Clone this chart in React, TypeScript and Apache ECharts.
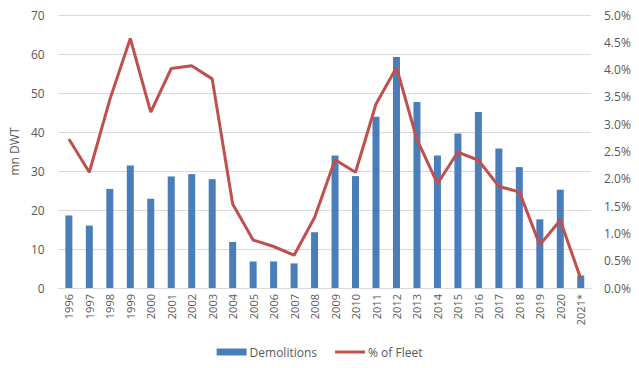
import React, { useEffect, useRef } from "react";
import * as echarts from "echarts";

const categories = ["1996","1997","1998","1999","2000","2001","2002","2003","2004","2005","2006","2007","2008","2009","2010","2011","2012","2013","2014","2015","2016","2017","2018","2019","2020","2021*"];
const demolitions = [18.6,16.0,25.4,31.4,22.9,28.6,29.2,27.9,11.8,6.8,6.8,6.3,14.3,34.0,28.7,43.9,59.2,47.7,34.0,39.6,45.1,35.8,31.0,17.6,25.2,3.2];
const pctFleet = [2.73,2.12,3.45,4.57,3.22,4.02,4.07,3.83,1.54,0.88,0.76,0.6,1.29,2.35,2.12,3.37,4.04,2.72,1.91,2.49,2.34,1.86,1.76,0.79,1.24,0.17];

export default function App() {
  const ref = useRef<HTMLDivElement>(null);
  useEffect(() => {
    const chart = echarts.init(ref.current!, null, { renderer: "svg" });
    const font = "'Open Sans', 'Liberation Sans', sans-serif";
    chart.setOption({
      animation: false,
      textStyle: { fontFamily: font },
      grid: { left: 57, right: 48, top: 15, bottom: 80, containLabel: false },
      legend: {
        bottom: 5,
        left: "center",
        itemGap: 18,
        itemWidth: 30,
        itemHeight: 7,
        symbolKeepAspect: true,
        textStyle: { color: "#595959", fontSize: 12, padding: [0, 0, 0, -2], fontFamily: "'Liberation Sans Narrow', 'Open Sans', sans-serif" },
        data: [
          { name: "Demolitions", icon: "rect" },
          { name: "% of Fleet", icon: "path://M0,0 L30,0 L30,3 L0,3 Z", itemStyle: { color: "#C0504D" } },
        ],
      },
      xAxis: {
        type: "category",
        data: categories,
        axisLine: { show: true, lineStyle: { color: "#d9d9d9" } },
        axisTick: { show: false },
        axisLabel: { rotate: 90, color: "#595959", fontSize: 11, margin: 6, interval: 0 },
      },
      yAxis: [
        {
          type: "value",
          min: 0,
          max: 70,
          interval: 10,
          name: "mn DWT",
          nameLocation: "middle",
          nameGap: 38,
          nameTextStyle: { color: "#595959", fontSize: 12 },
          axisLabel: { color: "#595959", fontSize: 12, margin: 14 },
          axisLine: { show: false },
          axisTick: { show: false },
          splitLine: { lineStyle: { color: "#d9d9d9" } },
        },
        {
          type: "value",
          min: 0,
          max: 5,
          interval: 0.5,
          position: "right",
          axisLabel: { color: "#595959", fontSize: 12, margin: 13, formatter: (v: number) => v.toFixed(1) + "%" },
          axisLine: { show: false },
          axisTick: { show: false },
          splitLine: { show: false },
        },
      ],
      series: [
        {
          name: "Demolitions",
          type: "bar",
          data: demolitions,
          barWidth: 7,
          itemStyle: { color: "#4A7EBB" },
        },
        {
          name: "% of Fleet",
          type: "line",
          yAxisIndex: 1,
          data: pctFleet,
          symbol: "none",
          lineStyle: { color: "#C0504D", width: 3 },
          itemStyle: { color: "#C0504D" },
        },
      ],
    });
    return () => chart.dispose();
  }, []);
  return <div ref={ref} style={{ width: 639, height: 368, margin: -8, background: "#fff" }} />;
}
